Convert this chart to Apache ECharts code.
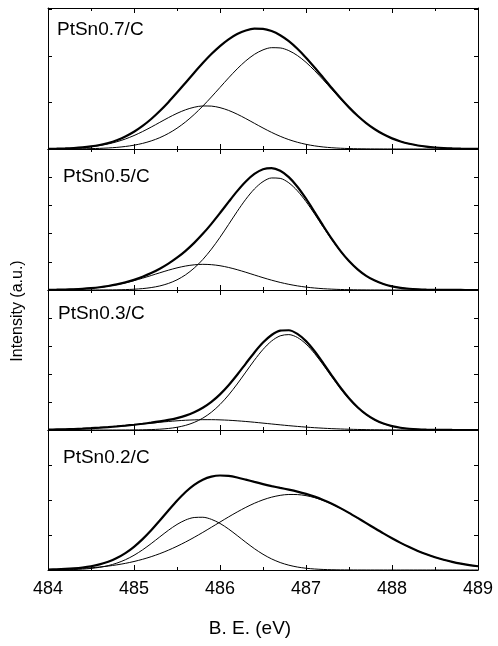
<!DOCTYPE html>
<html>
<head>
<meta charset="utf-8">
<script src="https://cdn.jsdelivr.net/npm/echarts@6/dist/echarts.min.js"></script>
<style>
  html, body { margin: 0; padding: 0; background: #fff; }
  #main { width: 498px; height: 646px; }
</style>
</head>
<body>
<div id="main"></div>
<script>
// binding energy grid, 484.0 .. 489.0 eV in 0.1 steps
var be = [484.0, 484.1, 484.2, 484.3, 484.4, 484.5, 484.6, 484.7, 484.8, 484.9,
          485.0, 485.1, 485.2, 485.3, 485.4, 485.5, 485.6, 485.7, 485.8, 485.9,
          486.0, 486.1, 486.2, 486.3, 486.4, 486.5, 486.6, 486.7, 486.8, 486.9,
          487.0, 487.1, 487.2, 487.3, 487.4, 487.5, 487.6, 487.7, 487.8, 487.9,
          488.0, 488.1, 488.2, 488.3, 488.4, 488.5, 488.6, 488.7, 488.8, 488.9, 489.0];
var xTicks = [484, 485, 486, 487, 488, 489];
var sampleNames = ['PtSn0.7/C', 'PtSn0.5/C', 'PtSn0.3/C', 'PtSn0.2/C'];

// PtSn0.7/C  (intensity as % of panel height)
var env07 = [0.12, 0.24, 0.41, 0.70, 1.15, 1.84, 2.86, 4.30, 6.27, 8.89,
             12.24, 16.36, 21.28, 26.94, 33.24, 40.02, 47.05, 54.11, 60.95, 67.32,
             73.00, 77.81, 81.55, 84.09, 85.33, 85.20, 83.64, 80.69, 76.45, 71.08,
             64.78, 57.83, 50.54, 43.21, 36.13, 29.51, 23.56, 18.37, 13.98, 10.40,
             7.54, 5.34, 3.69, 2.49, 1.64, 1.06, 0.66, 0.41, 0.24, 0.14, 0.08];
var a07 = [0.11, 0.21, 0.36, 0.61, 0.99, 1.57, 2.41, 3.57, 5.12, 7.10,
           9.54, 12.38, 15.55, 18.90, 22.22, 25.28, 27.82, 29.62, 30.52, 30.42,
           29.33, 27.37, 24.70, 21.57, 18.22, 14.90, 11.78, 9.01, 6.67, 4.78,
           3.31, 2.22, 1.44, 0.90, 0.55, 0.32, 0.18, 0.10, 0.05, 0.03,
           0.01, 0, 0, 0, 0, 0, 0, 0, 0, 0, 0];
var b07 = [0.01, 0.03, 0.05, 0.09, 0.16, 0.27, 0.45, 0.73, 1.15, 1.79,
           2.70, 3.98, 5.73, 8.04, 11.02, 14.74, 19.23, 24.49, 30.43, 36.90,
           43.67, 50.44, 56.85, 62.52, 67.11, 70.30, 71.86, 71.68, 69.78, 66.30,
           61.47, 55.61, 49.10, 42.31, 35.58, 29.19, 23.38, 18.27, 13.93, 10.37,
           7.53, 5.34, 3.69, 2.49, 1.64, 1.06, 0.66, 0.41, 0.24, 0.14, 0.08];

// PtSn0.5/C
var env05 = [0.12, 0.20, 0.34, 0.55, 0.86, 1.32, 1.95, 2.81, 3.94, 5.38,
             7.18, 9.37, 11.99, 15.08, 18.70, 22.91, 27.80, 33.42, 39.82, 46.93,
             54.59, 62.47, 70.11, 76.94, 82.30, 85.62, 86.43, 84.55, 80.05, 73.26,
             64.78, 55.30, 45.56, 36.22, 27.76, 20.52, 14.64, 10.05, 6.66, 4.25,
             2.62, 1.55, 0.88, 0.49, 0.26, 0.13, 0.07, 0.03, 0.02, 0.01, 0];
var a05 = [0.12, 0.20, 0.34, 0.55, 0.85, 1.30, 1.91, 2.73, 3.79, 5.09,
           6.63, 8.38, 10.27, 12.20, 14.05, 15.70, 17.01, 17.86, 18.20, 17.97,
           17.22, 15.99, 14.40, 12.58, 10.65, 8.75, 6.97, 5.38, 4.03, 2.92,
           2.06, 1.41, 0.93, 0.60, 0.37, 0.22, 0.13, 0.07, 0.04, 0.02,
           0.01, 0, 0, 0, 0, 0, 0, 0, 0, 0, 0];
var b05 = [0, 0, 0, 0, 0.01, 0.02, 0.04, 0.08, 0.15, 0.29,
           0.55, 0.99, 1.72, 2.88, 4.65, 7.21, 10.79, 15.56, 21.62, 28.96,
           37.37, 46.48, 55.71, 64.36, 71.65, 76.87, 79.46, 79.17, 76.02, 70.34,
           62.72, 53.89, 44.63, 35.62, 27.39, 20.30, 14.51, 9.98, 6.62, 4.23,
           2.61, 1.55, 0.88, 0.49, 0.26, 0.13, 0.07, 0.03, 0.02, 0.01, 0];

// PtSn0.3/C
var env03 = [0.27, 0.39, 0.54, 0.73, 0.97, 1.28, 1.64, 2.07, 2.57, 3.13,
             3.76, 4.45, 5.22, 6.12, 7.18, 8.52, 10.29, 12.67, 15.86, 20.09,
             25.46, 31.97, 39.44, 47.46, 55.39, 62.45, 67.87, 70.95, 71.24, 68.66,
             63.47, 56.25, 47.79, 38.90, 30.34, 22.68, 16.24, 11.13, 7.32, 4.61,
             2.79, 1.61, 0.90, 0.47, 0.24, 0.11, 0.05, 0.02, 0.01, 0, 0];
var a03 = [0.27, 0.39, 0.54, 0.73, 0.97, 1.28, 1.64, 2.07, 2.56, 3.10,
           3.69, 4.30, 4.92, 5.53, 6.09, 6.57, 6.97, 7.24, 7.38, 7.38,
           7.24, 6.97, 6.57, 6.09, 5.53, 4.92, 4.30, 3.69, 3.10, 2.56,
           2.07, 1.64, 1.28, 0.97, 0.73, 0.54, 0.39, 0.27, 0.19, 0.13,
           0.09, 0.06, 0.04, 0.02, 0.01, 0, 0, 0, 0, 0, 0];
var b03 = [0, 0, 0, 0, 0, 0, 0, 0, 0.01, 0.03,
           0.07, 0.15, 0.30, 0.59, 1.09, 1.95, 3.32, 5.43, 8.48, 12.71,
           18.22, 25.00, 32.87, 41.37, 49.86, 57.53, 63.57, 67.26, 68.14, 66.10,
           61.40, 54.61, 46.51, 37.93, 29.61, 22.14, 15.85, 10.86, 7.13, 4.48,
           2.70, 1.55, 0.86, 0.45, 0.23, 0.11, 0.05, 0.02, 0.01, 0, 0];

// PtSn0.2/C
var env02 = [0.34, 0.50, 0.77, 1.18, 1.79, 2.69, 4.04, 5.94, 8.58, 12.09,
             16.58, 22.05, 28.38, 35.33, 42.53, 49.48, 55.73, 60.83, 64.53, 66.72,
             67.51, 67.18, 66.07, 64.54, 62.91, 61.35, 59.94, 58.65, 57.39, 56.00,
             54.36, 52.41, 50.04, 47.30, 44.20, 40.82, 37.21, 33.51, 29.79, 26.14,
             22.65, 19.38, 16.36, 13.64, 11.22, 9.12, 7.31, 5.78, 4.52, 3.49, 2.66];
var a02 = [0.04, 0.08, 0.17, 0.34, 0.63, 1.12, 1.92, 3.13, 4.90, 7.34,
           10.51, 14.40, 18.87, 23.65, 28.37, 32.54, 35.72, 37.50, 37.67, 36.19,
           33.27, 29.26, 24.62, 19.81, 15.25, 11.23, 7.91, 5.33, 3.44, 2.12,
           1.25, 0.71, 0.38, 0.20, 0.10, 0.05, 0.02, 0.01, 0, 0,
           0, 0, 0, 0, 0, 0, 0, 0, 0, 0, 0];
var b02 = [0.30, 0.42, 0.60, 0.84, 1.16, 1.57, 2.12, 2.81, 3.68, 4.75,
           6.07, 7.65, 9.51, 11.68, 14.16, 16.94, 20.01, 23.33, 26.86, 30.53,
           34.24, 37.92, 41.45, 44.73, 47.66, 50.12, 52.03, 53.32, 53.95, 53.88,
           53.11, 51.70, 49.66, 47.10, 44.10, 40.77, 37.19, 33.50, 29.79, 26.14,
           22.65, 19.38, 16.36, 13.64, 11.22, 9.12, 7.31, 5.78, 4.52, 3.49, 2.66];

var panels = [
  [env07, a07, b07],
  [env05, a05, b05],
  [env03, a03, b03],
  [env02, a02, b02]
];

var tops = [8, 149, 290, 430];
var heights = [141, 141, 140, 140];
var yStep = [33, 20, 20, 25];
var labelPos = [[57, 30], [63, 177], [58, 314], [63, 458]];

var FONT = '"Liberation Sans", Arial, sans-serif';

function pairs(ys) {
  var out = [];
  for (var i = 0; i < be.length; i++) out.push([be[i], ys[i]]);
  return out;
}

var myChart = echarts.init(document.getElementById('main'));

var grid = [], xAxis = [], yAxis = [], series = [], graphic = [];

for (var p = 0; p < 4; p++) {
  grid.push({ left: 48, right: 20, top: tops[p], height: heights[p] });

  // bottom + top x axes
  ['bottom', 'top'].forEach(function (pos) {
    xAxis.push({
      gridIndex: p,
      type: 'value',
      position: pos,
      min: xTicks[0],
      max: xTicks[xTicks.length - 1],
      interval: 1,
      axisLine: { show: true, onZero: false, lineStyle: { color: '#000', width: 1 } },
      axisTick: { show: true, inside: true, length: 5, lineStyle: { color: '#000' } },
      minorTick: { show: true, splitNumber: 2, length: 3, lineStyle: { color: '#000' } },
      splitLine: { show: false },
      axisLabel: {
        show: (p === 3 && pos === 'bottom'),
        color: '#000',
        fontFamily: FONT,
        fontSize: 18,
        margin: 10
      }
    });
  });

  // left + right y axes
  ['left', 'right'].forEach(function (pos) {
    yAxis.push({
      gridIndex: p,
      type: 'value',
      position: pos,
      min: 0,
      max: 100,
      interval: yStep[p],
      axisLine: { show: true, onZero: false, lineStyle: { color: '#000', width: 1 } },
      axisTick: { show: true, inside: true, length: 4, lineStyle: { color: '#000' } },
      splitLine: { show: false },
      axisLabel: { show: false }
    });
  });

  var d = panels[p];
  for (var k = 0; k < 3; k++) {
    series.push({
      type: 'line',
      xAxisIndex: p * 2,
      yAxisIndex: p * 2,
      data: pairs(d[k]),
      smooth: 0.3,
      symbol: 'none',
      silent: true,
      lineStyle: { color: '#000', width: k === 0 ? 2.2 : 1 },
      z: k === 0 ? 3 : 2
    });
  }

  graphic.push({
    type: 'text',
    left: labelPos[p][0],
    top: labelPos[p][1] - 10,
    style: { text: sampleNames[p], fill: '#000', font: '19px ' + FONT }
  });
}

// axis titles
graphic.push({
  type: 'text',
  x: 18,
  y: 311,
  rotation: Math.PI / 2,
  style: { text: 'Intensity (a.u.)', fill: '#000', font: '16px ' + FONT, textAlign: 'center', textVerticalAlign: 'middle' }
});
graphic.push({
  type: 'text',
  x: 250,
  y: 629,
  style: { text: 'B. E. (eV)', fill: '#000', font: '19px ' + FONT, textAlign: 'center', textVerticalAlign: 'middle' }
});

myChart.setOption({
  animation: false,
  backgroundColor: '#fff',
  grid: grid,
  xAxis: xAxis,
  yAxis: yAxis,
  series: series,
  graphic: graphic
});
</script>
</body>
</html>
